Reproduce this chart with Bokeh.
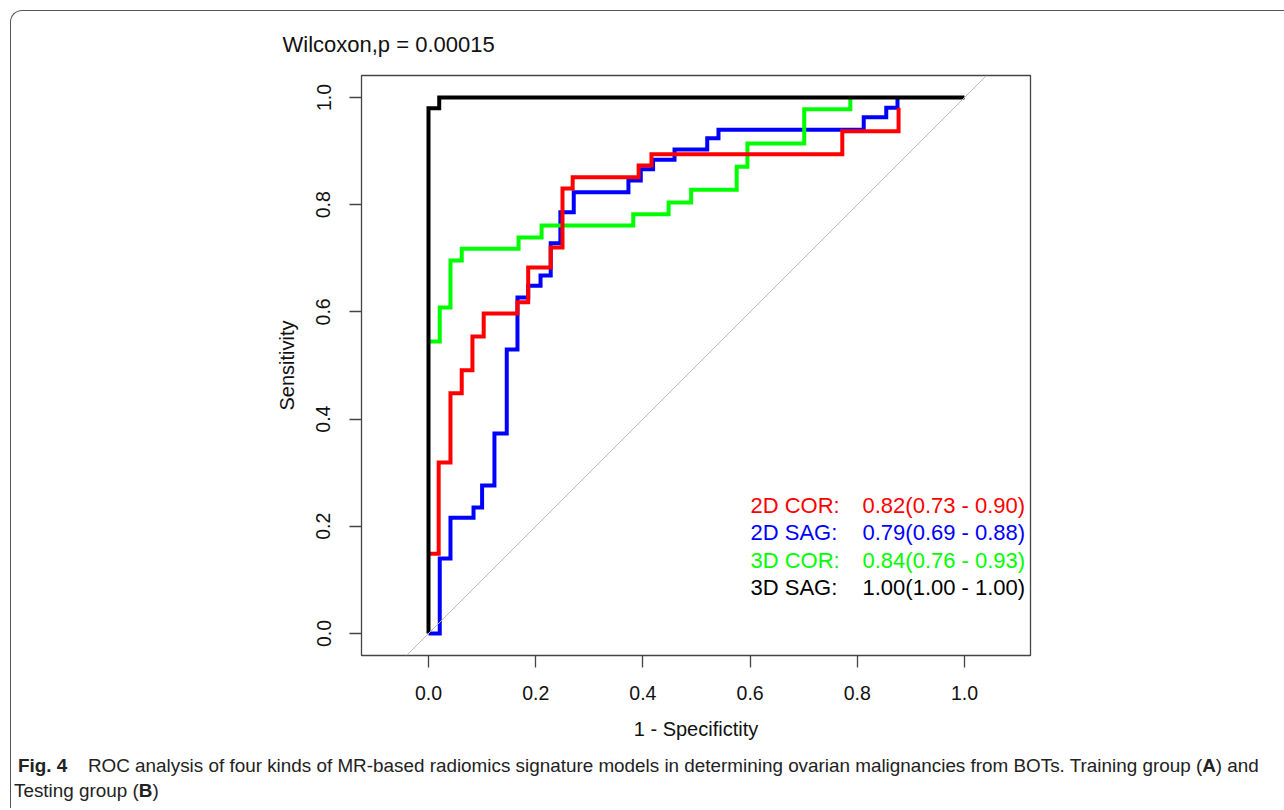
from bokeh.plotting import figure
from bokeh.layouts import column
from bokeh.models import Label, Slope, FixedTicker, Range1d, Div
from bokeh.embed import file_html
from bokeh.resources import INLINE

# ---------------- data (ROC step corners: 1 - specificity, sensitivity) ----------------
cor2d_fpr = [0.0, 0.019, 0.041, 0.062, 0.082, 0.103, 0.166, 0.186, 0.228, 0.25, 0.269, 0.392, 0.416, 0.772, 0.877]
cor2d_tpr = [0.149, 0.319, 0.448, 0.491, 0.554, 0.597, 0.618, 0.683, 0.72, 0.83, 0.851, 0.873, 0.894, 0.937, 0.981]

sag2d_fpr = [0.0, 0.021, 0.041, 0.084, 0.1, 0.123, 0.146, 0.166, 0.186, 0.209, 0.228, 0.246, 0.271,
             0.373, 0.396, 0.419, 0.459, 0.52, 0.541, 0.812, 0.854, 0.875]
sag2d_tpr = [0.0, 0.14, 0.216, 0.235, 0.276, 0.373, 0.53, 0.627, 0.649, 0.668, 0.728, 0.786, 0.823,
             0.845, 0.866, 0.884, 0.903, 0.924, 0.94, 0.963, 0.981, 1.0]

cor3d_fpr = [0.0, 0.021, 0.041, 0.062, 0.168, 0.211, 0.382, 0.448, 0.49, 0.575, 0.595, 0.701, 0.787]
cor3d_tpr = [0.545, 0.608, 0.696, 0.718, 0.739, 0.761, 0.782, 0.804, 0.828, 0.871, 0.914, 0.978, 1.0]

sag3d_fpr = [0.0, 0.0, 0.02, 1.0]
sag3d_tpr = [0.0, 0.98, 1.0, 1.0]

model_names = ["2D COR:", "2D SAG:", "3D COR:", "3D SAG:"]
auc_texts = ["0.82(0.73 - 0.90)", "0.79(0.69 - 0.88)", "0.84(0.76 - 0.93)", "1.00(1.00 - 1.00)"]
model_colors = ["#FF0000", "#0000FF", "#00FF00", "#000000"]

tick_values = [0.0, 0.2, 0.4, 0.6, 0.8, 1.0]
tick_labels = ["0.0", "0.2", "0.4", "0.6", "0.8", "1.0"]

title_text = "Wilcoxon,p = 0.00015"
x_label = "1 - Specifictity"
y_label = "Sensitivity"

caption_bold1 = "Fig. 4"
caption_line1 = "ROC analysis of four kinds of MR-based radiomics signature models in determining ovarian malignancies from BOTs. Training group ("
caption_boldA = "A"
caption_tail1 = ") and"
caption_line2 = "Testing group ("
caption_boldB = "B"
caption_tail2 = ")"

# ---------------- layout helpers (page pixels) ----------------
PAGE_W, PAGE_H = 1284, 810
OX, OY = 11, 11                          # content origin inside the rounded outer frame
FL, FR, FT, FB = 361, 1030, 75, 655      # plot frame edges (page px)
X0PX, X1PX = 428, 964                    # page px of x=0 and x=1
Y0PX, Y1PX = 633, 97                     # page px of y=0 and y=1
MAIN_H = 742
CAP_H = 55
FIG_W = PAGE_W - OX


def px2x(px):
    return (px - X0PX) / (X1PX - X0PX)


def py2y(py):
    return (Y0PX - py) / (Y0PX - Y1PX)


FONT = "Liberation Sans"

# Arial / Liberation Sans advance widths (1/1000 em), used to size the caption
_W = {' ': 278, 'a': 556, 'b': 556, 'c': 500, 'd': 556, 'e': 556, 'f': 278, 'g': 556, 'h': 556, 'i': 222,
      'j': 222, 'k': 500, 'l': 222, 'm': 833, 'n': 556, 'o': 556, 'p': 556, 'q': 556, 'r': 333, 's': 500,
      't': 278, 'u': 556, 'v': 500, 'w': 722, 'x': 500, 'y': 500, 'z': 500, 'A': 667, 'B': 667, 'C': 722,
      'D': 722, 'E': 667, 'F': 611, 'G': 778, 'H': 722, 'I': 278, 'J': 500, 'K': 667, 'L': 556, 'M': 833,
      'N': 722, 'O': 778, 'P': 667, 'Q': 778, 'R': 722, 'S': 667, 'T': 611, 'U': 722, 'V': 667, 'W': 944,
      'X': 667, 'Y': 667, 'Z': 611, '.': 278, ',': 278, '-': 333, '(': 333, ')': 333, '4': 556}
_WB = dict(_W)
_WB.update({'A': 722, 'B': 722, 'i': 278, 'g': 611, '4': 556, 'F': 611})


def tw(s, size, bold=False):
    tab = _WB if bold else _W
    return sum(tab.get(ch, 556) for ch in s) * size / 1000.0


# ---------------- main figure ----------------
p = figure(width=FIG_W, height=MAIN_H, output_backend="svg", toolbar_location=None,
           x_range=Range1d(px2x(FL), px2x(FR)), y_range=Range1d(py2y(FB), py2y(FT)),
           min_border_left=FL - OX, min_border_right=FIG_W - (FR - OX),
           min_border_top=FT - OY, min_border_bottom=MAIN_H - (FB - OY),
           background_fill_color="white", border_fill_color=None)
p.grid.visible = False
p.outline_line_color = "#444444"
p.outline_line_width = 1.3

for ax in (p.xaxis[0], p.yaxis[0]):
    ax.ticker = FixedTicker(ticks=tick_values)
    ax.major_label_overrides = {v: l for v, l in zip(tick_values, tick_labels)}
    ax.axis_line_color = None
    ax.major_tick_in = 0
    ax.major_tick_out = 12
    ax.major_tick_line_color = "#444444"
    ax.major_tick_line_width = 1.3
    ax.minor_tick_line_color = None
    ax.major_label_text_font = FONT
    ax.major_label_text_font_size = "19.5px"
    ax.major_label_text_color = "#111111"
    ax.axis_label_text_font = FONT
    ax.axis_label_text_font_size = "20px"
    ax.axis_label_text_font_style = "normal"
    ax.axis_label_text_color = "#111111"

p.xaxis.axis_label = x_label
p.yaxis.axis_label = y_label
p.xaxis.major_label_standoff = 18
p.xaxis.axis_label_standoff = 15
p.yaxis.major_label_orientation = "vertical"
p.yaxis.major_label_standoff = 19
p.yaxis.axis_label_standoff = 16

# title
p.title.text = title_text
p.title.align = "left"
p.title.offset = 282 - FL
p.title.vertical_align = "bottom"
p.title.standoff = 37
p.title.text_font = FONT
p.title.text_font_size = "22px"
p.title.text_font_style = "normal"
p.title.text_color = "#111111"

# diagonal reference
p.add_layout(Slope(gradient=1, y_intercept=0, line_color="#BBBBBB", line_width=1))

# ROC curves (drawn blue, green, red, black)
curves = {
    0: (cor2d_fpr, cor2d_tpr),
    1: (sag2d_fpr, sag2d_tpr),
    2: (cor3d_fpr, cor3d_tpr),
    3: (sag3d_fpr, sag3d_tpr),
}
for i in (1, 2, 0, 3):
    fx, ty = curves[i]
    p.step(fx, ty, mode="after", line_color=model_colors[i],
           line_width=4, line_join="miter")

# legend text
leg_y = [505, 532, 560, 587]
for name, auc, col, yy in zip(model_names, auc_texts, model_colors, leg_y):
    p.add_layout(Label(x=px2x(750), y=py2y(yy), text=name, text_color=col, text_font=FONT,
                       text_font_size="22px", text_baseline="middle"))
    p.add_layout(Label(x=px2x(862), y=py2y(yy), text=auc, text_color=col, text_font=FONT,
                       text_font_size="22px", text_baseline="middle"))

# ---------------- caption (HTML text) ----------------
cap_x0, cap_x1 = 88, 1262
units_total = tw(caption_line1, 1) + tw(caption_boldA, 1, True) + tw(caption_tail1, 1)
cs = (cap_x1 - cap_x0) / units_total
gap = cap_x0 - 18 - tw(caption_bold1, cs, True)

cap_html = (
    f'<div style="font-family:\'{FONT}\';font-size:{cs:.2f}px;color:#222222;line-height:25px;'
    f'white-space:nowrap;margin:0;padding:0;">'
    f'<div style="padding-left:{18 - OX}px;"><b>{caption_bold1}</b>'
    f'<span style="display:inline-block;width:{gap:.1f}px;"></span>'
    f'{caption_line1}<b>{caption_boldA}</b>{caption_tail1}</div>'
    f'<div style="padding-left:{14 - OX}px;">{caption_line2}<b>{caption_boldB}</b>{caption_tail2}</div>'
    f'</div>'
)
cap = Div(text=cap_html, width=FIG_W, height=CAP_H, margin=0)

layout = column(p, cap, spacing=0, margin=(OY - 1, 0, 0, OX - 1),
                styles={"border-top": "1px solid #555555", "border-left": "1px solid #555555",
                        "border-top-left-radius": "12px"})

open("out.html", "w").write(file_html(layout, INLINE))
